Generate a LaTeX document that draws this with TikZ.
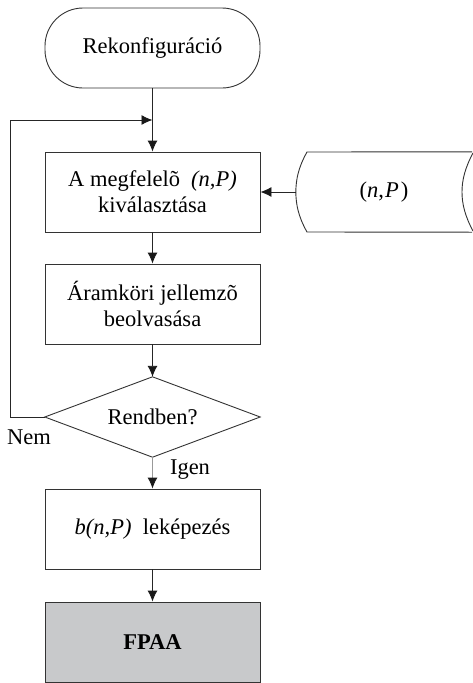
\documentclass[tikz,border=0pt]{standalone}
\usepackage{fontspec}
\setmainfont{Liberation Serif}
\usetikzlibrary{arrows.meta}
\definecolor{edge}{gray}{0.2}
\definecolor{boxgray}{HTML}{C8C9CB}
\tikzset{
  x=1pt, y=-1pt,
  every node/.style={font=\fontsize{22.5}{26}\selectfont, align=center},
  procbox/.style={draw=edge, line width=0.9pt, minimum width=215pt, minimum height=80pt, inner sep=0pt},
  termbox/.style={draw=edge, line width=0.9pt, rounded corners=38pt, minimum width=215pt, minimum height=80pt, inner sep=0pt},
  plain/.style={minimum width=215pt, minimum height=80pt, inner sep=0pt},
  arr/.style={-{Latex[length=11pt,width=10pt,color=black!90]}, line width=0.9pt, draw=black!85},
  ln/.style={line width=0.9pt, draw=black!85}
}
\begin{document}
\begin{tikzpicture}
\useasboundingbox (0,0) rectangle (472,683);
\node[termbox] (term) at (152.5,48) {Rekonfiguráció};
\node[procbox] (box1) at (152.5,192) {A megfelelõ \ \textit{(n,P)}\\kiválasztása};
\node[minimum width=176pt, minimum height=80pt, inner sep=0pt] (stor) at (384,192) {(\textit{n},\kern1pt\textit{P}\kern2pt)};
\draw[ln, draw=edge] (stor.north east) -- (307,152) .. controls (298,168) and (296,180) .. (stor.west)
  .. controls (296,204) and (298,216) .. (307,232) -- (stor.south east);
\draw[ln, draw=edge] (473,153) .. controls (465,168) and (462,180) .. (462,192)
  .. controls (462,204) and (465,216) .. (473,231);
\node[procbox] (box2) at (152.5,304) {Áramköri jellemzõ\\beolvasása};
\node[plain] (dec) at (152.5,417) {Rendben?};
\draw[ln, draw=edge] (dec.west) -- (dec.north) -- (dec.east) -- (dec.south) -- cycle;
\node[procbox] (box3) at (152.5,529) {\textit{b(n,P)}\ \ leképezés};
\node[procbox, fill=boxgray] (box4) at (152.5,642) {\textbf{FPAA}};
\coordinate (j) at (152.5,120);
\coordinate (lc) at (10,120);
\node (nem) at (29,437) {Nem};
\node (igen) at (190,470) {Igen};
\draw[ln] (term.south) -- (j);
\draw[arr] (j) -- (box1.north);
\draw[arr] (dec.west) -| (lc) -- (j);
\draw[arr] (stor.west) -- (box1.east);
\draw[arr] (box1.south) -- (box2.north);
\draw[arr] (box2.south) -- (dec.north);
\draw[arr, draw=black!40] (dec.south) -- (box3.north);
\draw[arr] (box3.south) -- (box4.north);
\end{tikzpicture}
\end{document}
